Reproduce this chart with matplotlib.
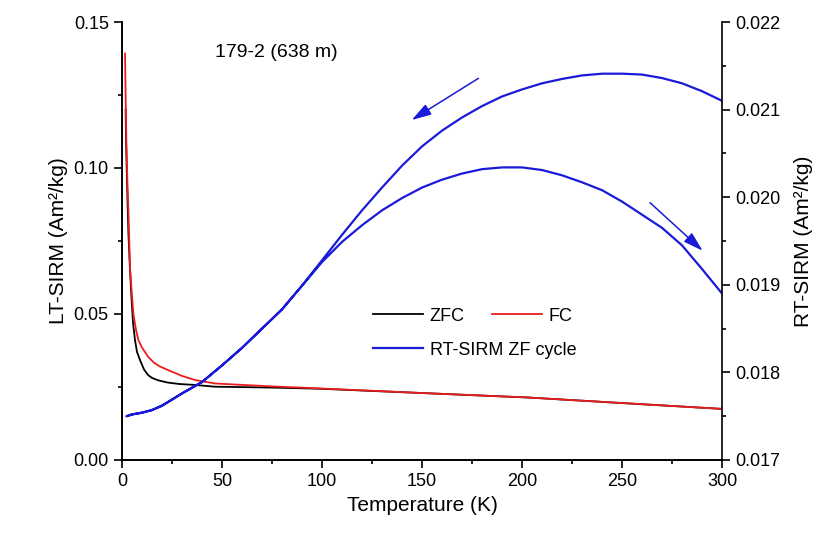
import matplotlib
matplotlib.use("Agg")
import matplotlib.pyplot as plt
from matplotlib.ticker import MultipleLocator, FormatStrFormatter

plt.rcParams['font.family'] = ['Liberation Sans', 'DejaVu Sans']

# LT-SIRM, zero-field cooled
zfc_T = [1.8, 2.0, 2.5, 3.2, 4.0, 4.8, 5.5, 6.5, 7.5, 9, 11, 13, 15, 18, 23, 29, 36.5,
         46.5, 75, 99, 151, 203, 255, 300]
zfc_M = [0.120, 0.110, 0.095, 0.0776, 0.065, 0.0548, 0.047, 0.041, 0.0370, 0.0342, 0.0310,
         0.0291, 0.0281, 0.0273, 0.0265, 0.0260, 0.0257, 0.0251, 0.0248, 0.0244, 0.0229,
         0.0214, 0.0193, 0.0175]
# LT-SIRM, field cooled
fc_T = [1.5, 1.8, 2.2, 2.7, 3.2, 4, 5, 5.7, 7, 8.2, 10, 13, 16, 19, 23, 30, 36.5, 46.5,
        75, 99, 151, 203, 255, 300]
fc_M = [0.1392, 0.125, 0.108, 0.095, 0.085, 0.066, 0.056, 0.050, 0.0445, 0.041, 0.0385,
        0.0354, 0.0333, 0.0320, 0.0308, 0.0288, 0.0274, 0.0262, 0.0252, 0.0245, 0.0229,
        0.0214, 0.0193, 0.0175]

# RT-SIRM zero-field cycle: cooling 300 -> 2 K
cool_T = [300, 290, 280, 270, 260, 250, 240, 230, 220, 210, 200, 190, 180, 170, 160, 150,
          140, 130, 120, 110, 100, 90, 80, 70, 60, 50, 40, 30, 20, 15, 10, 5, 2.3]
cool_M = [0.02110, 0.02121, 0.02130, 0.02136, 0.02140, 0.02141, 0.02141, 0.02139, 0.02135,
          0.02130, 0.02123, 0.02115, 0.02104, 0.02091, 0.02076, 0.02058, 0.02036, 0.02011,
          0.01985, 0.01957, 0.01928, 0.01899, 0.01872, 0.01850, 0.01828, 0.01808, 0.01789,
          0.01776, 0.01762, 0.01757, 0.01754, 0.01752, 0.01750]
# warming 2 -> 300 K
warm_T = [2.3, 5, 10, 15, 20, 30, 40, 50, 60, 70, 80, 90, 100, 110, 120, 130, 140, 150,
          160, 170, 180, 190, 200, 210, 220, 230, 240, 250, 260, 270, 280, 290, 300]
warm_M = [0.01750, 0.01752, 0.01754, 0.01757, 0.01762, 0.01776, 0.01789, 0.01808, 0.01828,
          0.01850, 0.01872, 0.01899, 0.01926, 0.01949, 0.01968, 0.01985, 0.01999, 0.02011,
          0.02020, 0.02027, 0.02032, 0.02034, 0.02034, 0.02031, 0.02025, 0.02017, 0.02008,
          0.01995, 0.01980, 0.01965, 0.01945, 0.01918, 0.01890]

blue = '#1a1ad8'
red = '#ec1c1c'

fig = plt.figure(figsize=(8.25, 5.34), dpi=100)
ax = fig.add_axes([0.1479, 0.1386, 0.7273, 0.8202])
ax2 = ax.twinx()

l1, = ax.plot(zfc_T, zfc_M, color='black', lw=1.3, label='ZFC')
l2, = ax.plot(fc_T, fc_M, color=red, lw=1.3, label='FC')
l3, = ax2.plot(cool_T + warm_T, cool_M + warm_M, color=blue, lw=1.6,
               label='RT-SIRM ZF cycle')

ax.set_xlim(0, 300)
ax.set_ylim(0, 0.15)
ax2.set_ylim(0.017, 0.022)

ax.xaxis.set_major_locator(MultipleLocator(50))
ax.xaxis.set_minor_locator(MultipleLocator(25))
ax.yaxis.set_major_locator(MultipleLocator(0.05))
ax.yaxis.set_minor_locator(MultipleLocator(0.025))
ax.yaxis.set_major_formatter(FormatStrFormatter('%.2f'))
ax2.yaxis.set_major_locator(MultipleLocator(0.001))
ax2.yaxis.set_minor_locator(MultipleLocator(0.0005))
ax2.yaxis.set_major_formatter(FormatStrFormatter('%.3f'))

for a in (ax, ax2):
    a.spines['top'].set_visible(False)
    for s in a.spines.values():
        s.set_linewidth(1.2)
    a.tick_params(which='major', direction='out', length=6, width=1.2, labelsize=13)
    a.tick_params(which='minor', direction='out', length=3, width=1.2)
ax.spines['right'].set_visible(False)

ax.set_xlabel('Temperature (K)', fontsize=15)
ax.set_ylabel('LT-SIRM (Am²/kg)', fontsize=15)
ax2.set_ylabel('RT-SIRM (Am²/kg)', fontsize=15, labelpad=10)

ax.text(0.155, 0.93, '179-2 (638 m)', transform=ax.transAxes, fontsize=14, va='center')

# direction arrows
arrow = dict(arrowstyle='-|>,head_length=0.6,head_width=0.18', color=blue, lw=1.1,
             mutation_scale=20, shrinkA=0, shrinkB=0)
ax2.annotate('', xy=(144.8, 0.020881), xytext=(178.2, 0.021357), arrowprops=arrow)
ax2.annotate('', xy=(290.3, 0.019389), xytext=(264.0, 0.019937), arrowprops=arrow)

leg1 = ax2.legend(handles=[l1, l2], ncol=2, frameon=False, fontsize=13,
                  loc='upper left', bbox_to_anchor=(0.418, 0.348),
                  handlelength=2.8, handletextpad=0.35, columnspacing=1.5,
                  borderpad=0, borderaxespad=0)
ax2.add_artist(leg1)
ax2.legend(handles=[l3], frameon=False, fontsize=13,
           loc='upper left', bbox_to_anchor=(0.418, 0.270),
           handlelength=2.8, handletextpad=0.35, borderpad=0, borderaxespad=0)

plt.savefig('out.png', dpi=100)
